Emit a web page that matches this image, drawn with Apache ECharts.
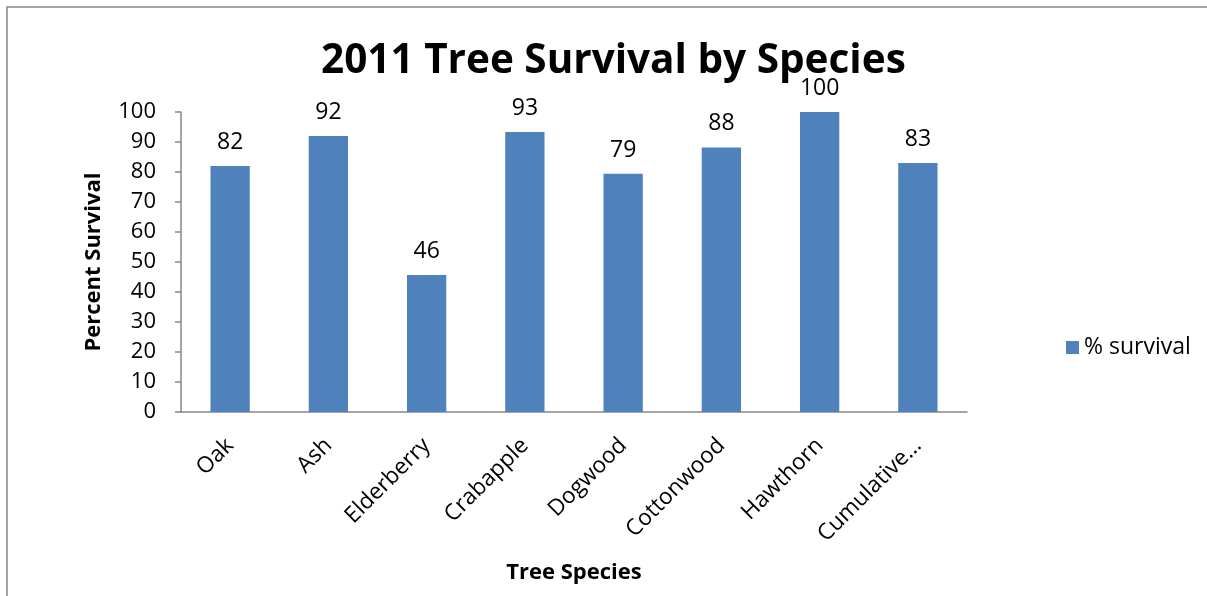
<!DOCTYPE html>
<html>
<head>
<meta charset="utf-8">
<script src="https://cdn.jsdelivr.net/npm/echarts@6/dist/echarts.min.js"></script>
<style>
  html, body { margin: 0; padding: 0; background: #fff; }
  #chart { width: 1207px; height: 596px; }
</style>
</head>
<body>
<div id="chart"></div>
<script>
// values
const species = ['Oak', 'Ash', 'Elderberry', 'Crabapple', 'Dogwood', 'Cottonwood', 'Hawthorn', 'Cumulative Survival'];
const survival = [82, 92, 45.7, 93.3, 79.4, 88.2, 100, 83];
const seriesName = '% survival';

const font = 'Open Sans';
const chart = echarts.init(document.getElementById('chart'));

chart.setOption({
  animation: false,
  title: {
    text: '2011 Tree Survival by Species',
    left: 316,
    top: 36,
    textStyle: { fontFamily: font, fontSize: 40.5, fontWeight: 'bold', color: '#000' }
  },
  legend: {
    data: [seriesName],
    left: 1061,
    top: 331,
    itemWidth: 13,
    itemHeight: 13,
    itemGap: 8,
    icon: 'rect',
    textStyle: { fontFamily: font, fontSize: 23, color: '#000' }
  },
  grid: { left: 181, right: 240, top: 112, bottom: 184 },
  xAxis: {
    type: 'category',
    data: species,
    name: 'Tree Species',
    nameLocation: 'middle',
    nameGap: 150,
    nameTextStyle: { fontFamily: font, fontSize: 22, fontWeight: 'bold', color: '#000' },
    axisLine: { lineStyle: { color: '#868686', width: 1.5 } },
    axisTick: { alignWithLabel: false, length: 7, lineStyle: { color: '#868686', width: 1.5 } },
    axisLabel: {
      rotate: 45,
      margin: 30,
      interval: 0,
      fontFamily: font,
      fontSize: 22.5,
      color: '#000',
      formatter: function (v) { return v.length > 12 ? v.slice(0, 10) + '…' : v; }
    }
  },
  yAxis: {
    type: 'value',
    min: 0,
    max: 100,
    interval: 10,
    name: 'Percent Survival',
    nameLocation: 'middle',
    nameRotate: 90,
    nameGap: 76,
    nameTextStyle: { fontFamily: font, fontSize: 22, fontWeight: 'bold', color: '#000' },
    splitLine: { show: false },
    axisLine: { show: true, lineStyle: { color: '#868686', width: 1.5 } },
    axisTick: { show: true, length: 6, lineStyle: { color: '#868686', width: 1.5 } },
    axisLabel: { margin: 25, fontFamily: font, fontSize: 22, color: '#000' }
  },
  series: [{
    name: seriesName,
    type: 'bar',
    data: survival,
    barWidth: '40%',
    itemStyle: { color: '#4F81BD' },
    label: {
      show: true,
      position: 'top',
      distance: 12,
      fontFamily: font,
      fontSize: 23,
      color: '#000',
      formatter: function (p) { return Math.round(p.value); }
    }
  }],
  graphic: [{
    type: 'rect',
    shape: { x: 7, y: 7, width: 1300, height: 700 },
    style: { fill: null, stroke: '#868686', lineWidth: 1.5 },
    silent: true
  }]
});
</script>
</body>
</html>
